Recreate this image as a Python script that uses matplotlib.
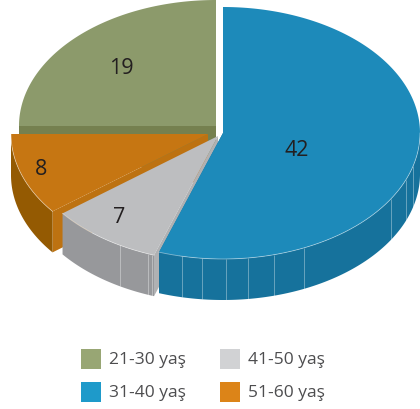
import numpy as np
import matplotlib
matplotlib.use("Agg")
import matplotlib.pyplot as plt
from matplotlib.patches import Polygon, Rectangle

categories = ["21-30 yaş", "31-40 yaş", "41-50 yaş", "51-60 yaş"]
values = [19, 42, 7, 8]

top_colors = ["#8c9a6b", "#1d8aba", "#bdbec0", "#c67612"]
outer_colors = ["#75804f", "#16729c", "#97989b", "#945a02"]
radial_colors = ["#75804f", "#156f97", "#b0b1b3", "#bd7211"]
legend_colors = ["#98a674", "#1e9aca", "#d1d2d4", "#dc8418"]
centers = [(216, 126), (223, 133), (218, 136), (208, 134)]
label_pos = [(0.68, 135), (0.39, -17.6), (0.80, -129), (0.887, 197)]
facets = {1: [-102, -96.2, -89.2, -82.7, -75, -65.7, -31.5, -21.7, -15.4],
          2: [-119.8, -110.8, -109.6]}
A, B, DEPTH = 197, 126, 41

plt.rcParams["font.family"] = ["Open Sans", "DejaVu Sans"]
fig = plt.figure(figsize=(4.2, 4.09), dpi=100)
ax = fig.add_axes([0, 0, 1, 1])
ax.set_xlim(0, 420)
ax.set_ylim(409, 0)
ax.axis("off")

# slices run clockwise from 12 o'clock: blue first, green last
order = [1, 2, 3, 0]
total = sum(values)
spans = {}
a = 90.0
for i in order:
    b = a - 360.0 * values[i] / total
    spans[i] = (a, b)
    a = b


def pt(i, deg, r=1.0, dz=0.0):
    cx, cy = centers[i]
    t = np.radians(deg)
    return cx + A * r * np.cos(t), cy - B * r * np.sin(t) + dz


# which cut faces are visible, and the part of the rim that faces the viewer
radial_faces = {0: "start_end", 1: "end", 2: "start", 3: "start"}
for z, i in enumerate([0, 3, 2, 1]):
    a0, a1 = spans[i]
    cx, cy = centers[i]
    base = 2 + 3 * z
    faces = []
    if "start" in radial_faces[i]:
        faces.append(a0)
    if "end" in radial_faces[i]:
        faces.append(a1)
    for ang in faces:
        x, y = pt(i, ang)
        ax.add_patch(Polygon([(cx, cy), (x, y), (x, y + DEPTH), (cx, cy + DEPTH)],
                             closed=True, fc=radial_colors[i], ec="none", zorder=base))
    if i != 0:
        ts = np.linspace(a1, min(a0, 0.0), 200)
        rim_top = np.array([pt(i, t) for t in ts])
        rim_bot = np.array([pt(i, t, 1.0, DEPTH) for t in ts[::-1]])
        ax.add_patch(Polygon(np.vstack([rim_top, rim_bot]), closed=True,
                             fc=outer_colors[i], ec="none", zorder=base))
        for f in facets.get(i, []):
            x, y = pt(i, f)
            ax.plot([x, x], [y, y + DEPTH], color="#ffffff", alpha=0.35, lw=0.7,
                    zorder=base + 0.5, solid_capstyle="butt")
        ax.plot(rim_top[:, 0], rim_top[:, 1], color="#ffffff", alpha=0.45, lw=0.6,
                zorder=base + 1.5)
    edge = np.array([pt(i, t) for t in np.linspace(a0, a1, 200)])
    ax.add_patch(Polygon(np.vstack([[(cx, cy)], edge]), closed=True,
                         fc=top_colors[i], ec="none", zorder=base + 1))
    r, ang = label_pos[i]
    x, y = pt(i, ang, r, 3.0)
    ax.text(x, y, str(values[i]), fontsize=15.5, color="#231f20", ha="center",
            va="center", zorder=30)

# legend
legend_x = [81, 81, 220, 220]
legend_y = [349, 382, 349, 382]
for i, name in enumerate(categories):
    ax.add_patch(Rectangle((legend_x[i], legend_y[i]), 20, 20, fc=legend_colors[i],
                           ec="none", zorder=30))
    ax.text(legend_x[i] + 28, legend_y[i] + 11, name, fontsize=12.5, color="#4d4d4f",
            ha="left", va="center", zorder=30)

fig.savefig("out.png", dpi=100)
